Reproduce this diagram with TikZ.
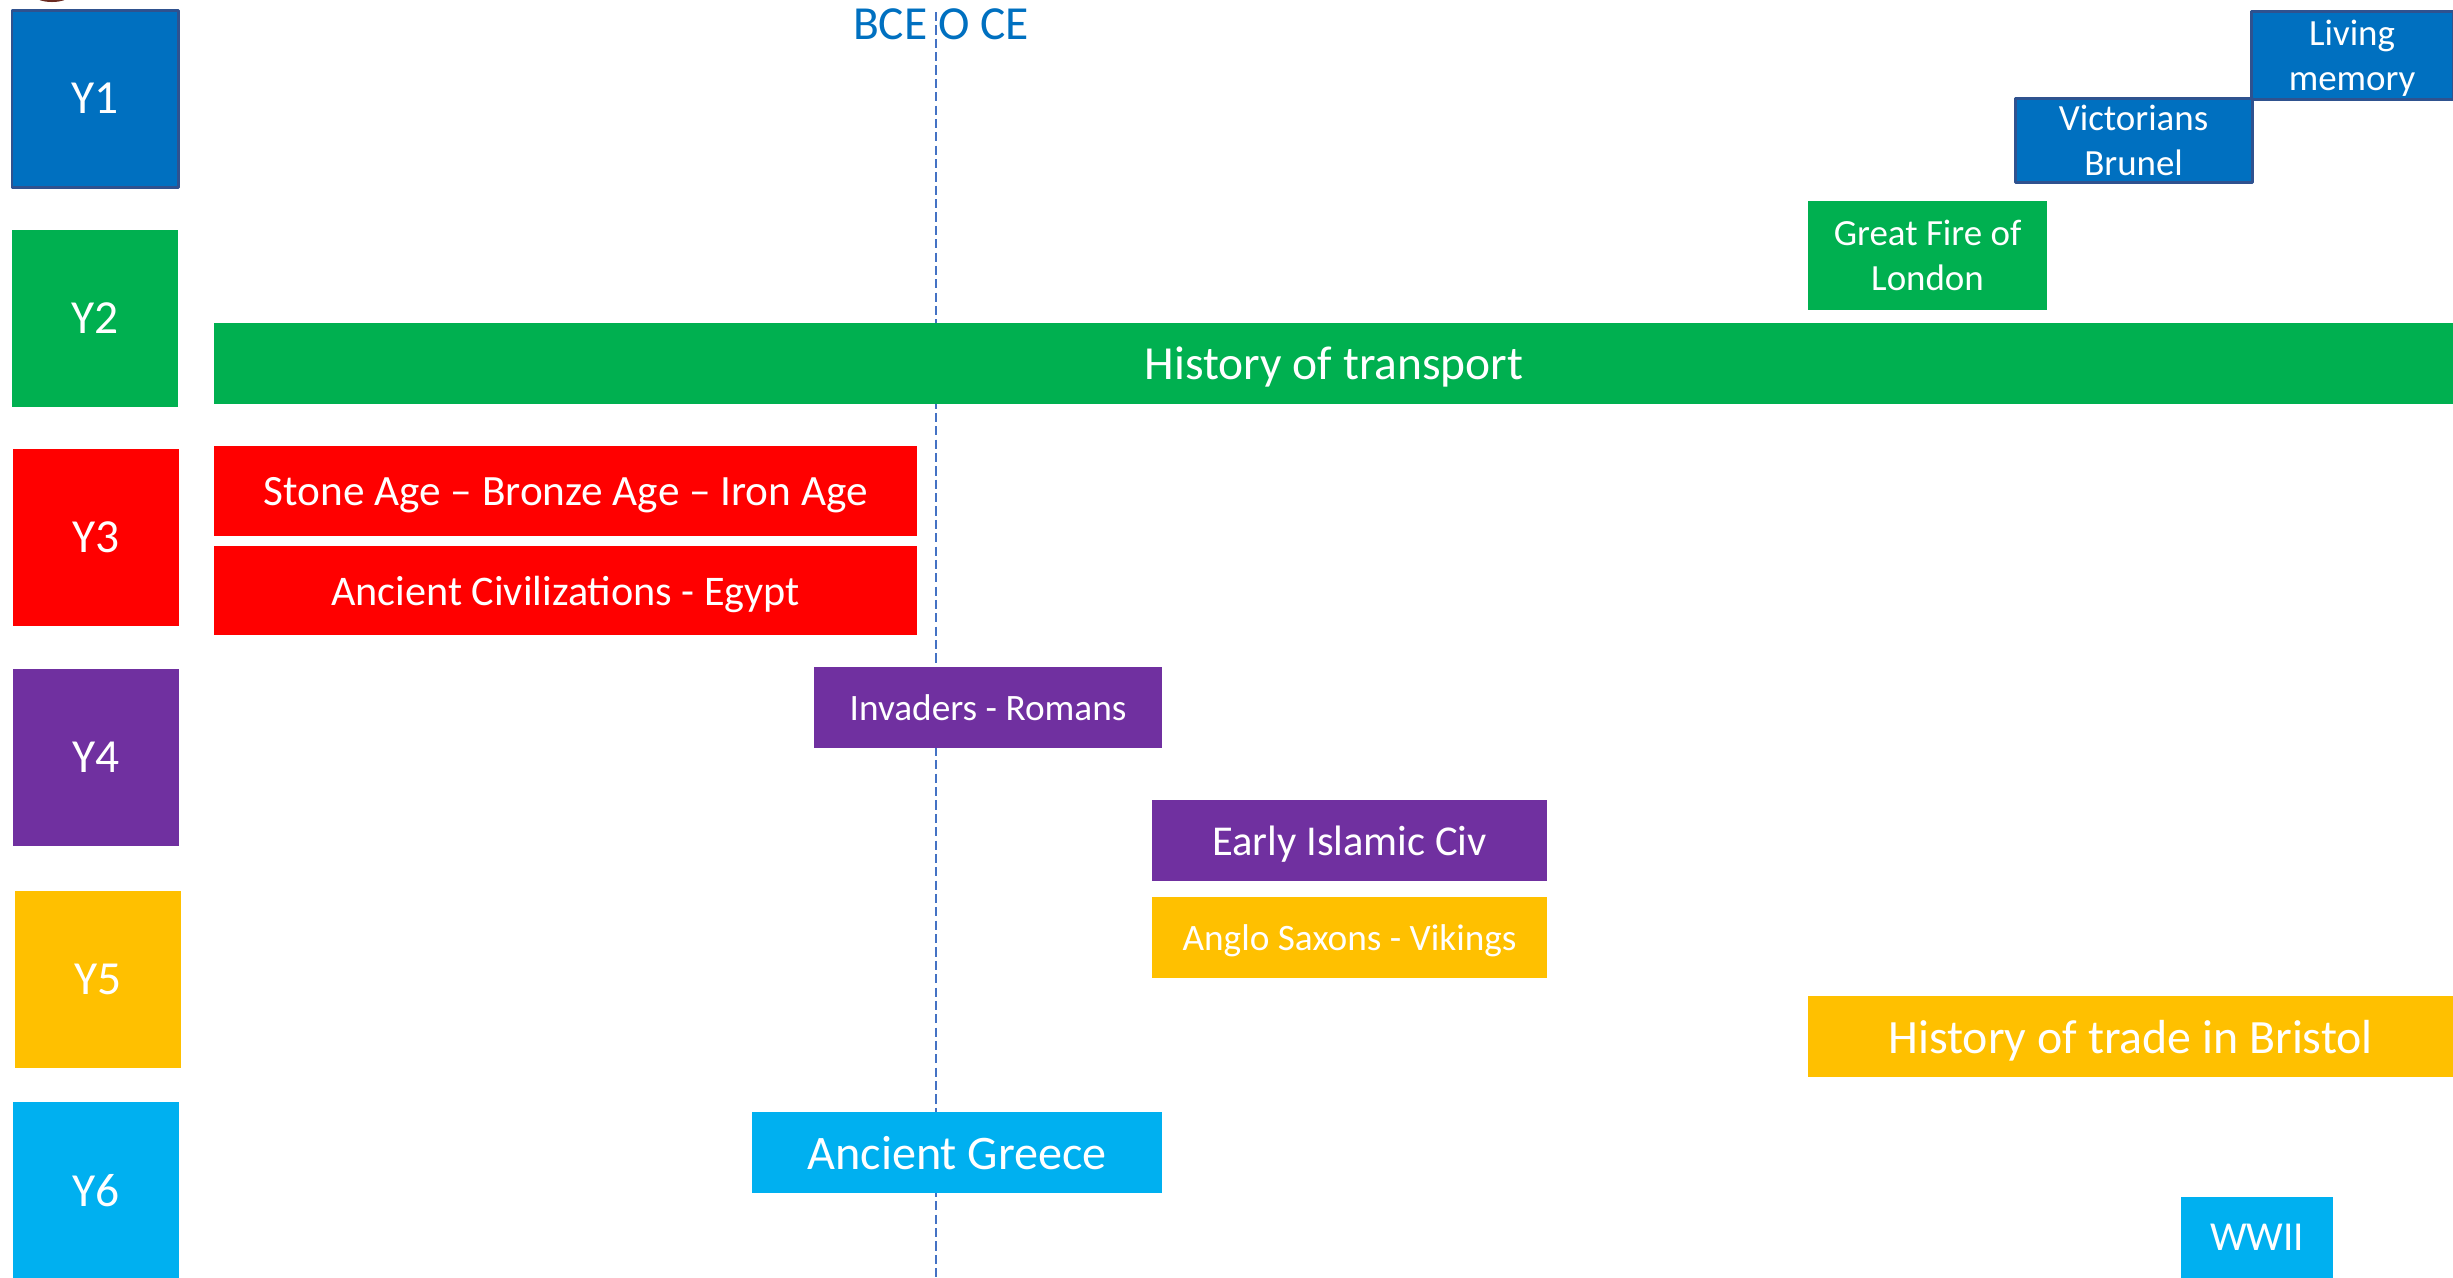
\documentclass[tikz,border=0pt]{standalone}
\usepackage{fontspec}
\setmainfont{Carlito}
\definecolor{yone}{HTML}{0070C0}
\definecolor{ytwo}{HTML}{00B050}
\definecolor{ythree}{HTML}{FF0000}
\definecolor{yfour}{HTML}{7030A0}
\definecolor{yfive}{HTML}{FFC000}
\definecolor{ysix}{HTML}{00B0F0}
\definecolor{edgeblue}{HTML}{2F528F}
\definecolor{lineblue}{HTML}{4472C4}
\definecolor{logored}{HTML}{6B2B22}
\tikzset{
    topic/.style={inner sep=0pt, outer sep=0pt, anchor=north west, text=white, align=center, text depth=0pt},
    yearbox/.style={topic, minimum width=1.66cm, minimum height=1.77cm, font=\fontsize{13.5}{16}\selectfont},
    bar/.style={topic, minimum height=0.81cm},
    framed/.style={draw=edgeblue, line width=0.85pt},
}

\begin{document}
\begin{tikzpicture}[line cap=round,line join=round,x=0.01cm,y=-0.01cm]
    \useasboundingbox (0,0) rectangle (2453,1278);
    \fill[logored] (52,-6) ellipse (0.19cm and 0.08cm);
    % the year zero
    \coordinate (zerotop) at (936,12);
    \coordinate (zerobot) at (936,1278);
    \draw[color=lineblue, line width=0.6pt, line cap=butt, dash pattern=on 2.6pt off 1.2pt] (zerotop) -- (zerobot);
    \node[anchor=base, text=yone, font=\fontsize{13.5}{16}\selectfont] (era) at (941,39) {BCE O CE};
    % year groups
    \node[yearbox, fill=yone, framed] (y1) at (12,10) {Y1};
    \foreach \n/\c/\x/\y in {2/ytwo/12/230, 3/ythree/13/449, 4/yfour/13/669, 5/yfive/15/891, 6/ysix/13/1102}
    \node[yearbox, fill=\c] (y\n) at (\x,\y) {Y\n};
    % topics
    \node[topic, fill=yone, framed, minimum width=2.02cm, minimum height=0.88cm, font=\fontsize{10.5}{12.8}\selectfont] (living) at (2251,11) {Living\\memory};
    \node[topic, fill=yone, framed, minimum width=2.37cm, minimum height=0.84cm, font=\fontsize{10.5}{12.8}\selectfont] (victorians) at (2015,98) {Victorians\\Brunel};
    \node[topic, fill=ytwo, minimum width=2.39cm, minimum height=1.09cm, font=\fontsize{10.5}{12.8}\selectfont] (fire) at (1808,201) {Great Fire of\\London};
    \node[bar, fill=ytwo, minimum width=22.39cm, font=\fontsize{13.5}{16}\selectfont] (transport) at (214,323) {History of transport};
    \node[topic, fill=ythree, minimum width=7.03cm, minimum height=0.90cm, font=\fontsize{12.3}{15}\selectfont] (stone) at (214,446) {Stone Age -- Bronze Age -- Iron Age};
    \node[topic, fill=ythree, minimum width=7.03cm, minimum height=0.89cm, font=\fontsize{12}{14}\selectfont] (egypt) at (214,546) {Ancient Civilizations - Egypt};
    \node[bar, fill=yfour, minimum width=3.48cm, font=\fontsize{10.6}{13}\selectfont] (romans) at (814,667) {Invaders - Romans};
    \node[bar, fill=yfour, minimum width=3.95cm, font=\fontsize{12.1}{15}\selectfont] (islamic) at (1152,800) {Early Islamic Civ};
    \node[bar, fill=yfive, minimum width=3.95cm, font=\fontsize{10.6}{13}\selectfont] (saxons) at (1152,897) {Anglo Saxons - Vikings};
    \node[bar, fill=yfive, minimum width=6.45cm, font=\fontsize{13.6}{16}\selectfont] (bristol) at (1808,996) {History of trade in Bristol};
    \node[bar, fill=ysix, minimum width=4.10cm, font=\fontsize{13.7}{17}\selectfont] (greece) at (752,1112) {Ancient Greece};
    \node[bar, fill=ysix, minimum width=1.52cm, font=\fontsize{11.7}{14}\selectfont] (wwii) at (2181,1197) {WWII};
\end{tikzpicture}
\end{document}
